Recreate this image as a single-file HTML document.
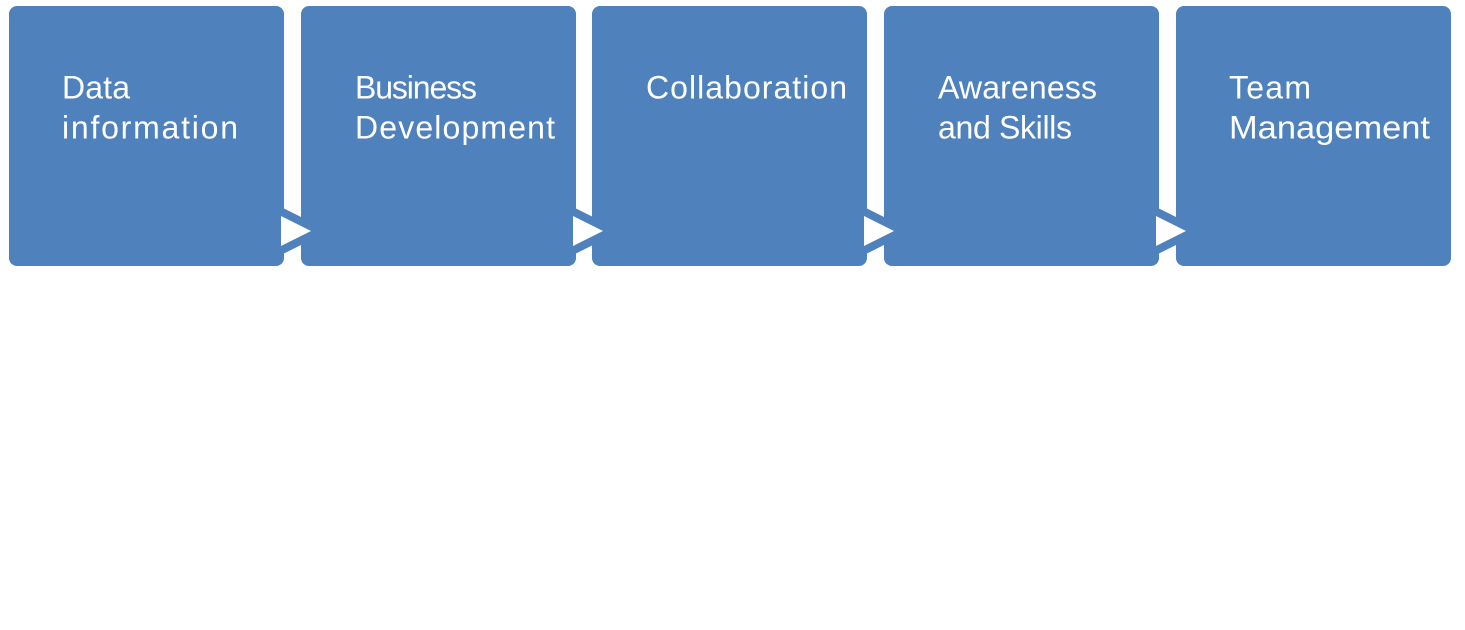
<!DOCTYPE html>
<html>
<head>
<meta charset="utf-8">
<style>
  html, body { margin: 0; padding: 0; background: #ffffff; }
  body { width: 1465px; height: 630px; overflow: hidden; }
  svg { display: block; }
  text { font-family: "Liberation Sans", sans-serif; font-size: 32px; fill: #ffffff; }
</style>
</head>
<body>
<svg width="1465" height="630" viewBox="0 0 1465 630" xmlns="http://www.w3.org/2000/svg">
  <rect x="0" y="0" width="1465" height="630" fill="#ffffff"/>
  <g fill="#4f81bd">
    <rect x="9" y="6" width="275" height="260" rx="8" ry="8"/>
    <rect x="301" y="6" width="275" height="260" rx="8" ry="8"/>
    <rect x="592" y="6" width="275" height="260" rx="8" ry="8"/>
    <rect x="884" y="6" width="275" height="260" rx="8" ry="8"/>
    <rect x="1176" y="6" width="275" height="260" rx="8" ry="8"/>
  </g>
  <!-- arrows -->
  <g>
    <polygon points="273,203 329,231 273,259" fill="#4f81bd"/>
    <polygon points="281,216 311,231 281,246" fill="#ffffff"/>
    <polygon points="565,203 621,231 565,259" fill="#4f81bd"/>
    <polygon points="573,216 603,231 573,246" fill="#ffffff"/>
    <polygon points="856,203 912,231 856,259" fill="#4f81bd"/>
    <polygon points="864,216 894,231 864,246" fill="#ffffff"/>
    <polygon points="1148,203 1204,231 1148,259" fill="#4f81bd"/>
    <polygon points="1156,216 1186,231 1156,246" fill="#ffffff"/>
  </g>
  <text x="62" y="98.5" textLength="68" lengthAdjust="spacing">Data</text>
  <text x="62" y="138.5" textLength="176" lengthAdjust="spacing">information</text>
  <text x="355" y="98.5" textLength="122" lengthAdjust="spacing">Business</text>
  <text x="355" y="138.5" textLength="200" lengthAdjust="spacing">Development</text>
  <text x="646" y="98.5" textLength="201" lengthAdjust="spacing">Collaboration</text>
  <text x="938" y="98.5" textLength="159" lengthAdjust="spacing">Awareness</text>
  <text x="938" y="138.5" textLength="134" lengthAdjust="spacing">and Skills</text>
  <text x="1229" y="98.5" textLength="82" lengthAdjust="spacing">Team</text>
  <text x="1229" y="138.5" textLength="201" lengthAdjust="spacingAndGlyphs">Management</text>
</svg>
</body>
</html>
